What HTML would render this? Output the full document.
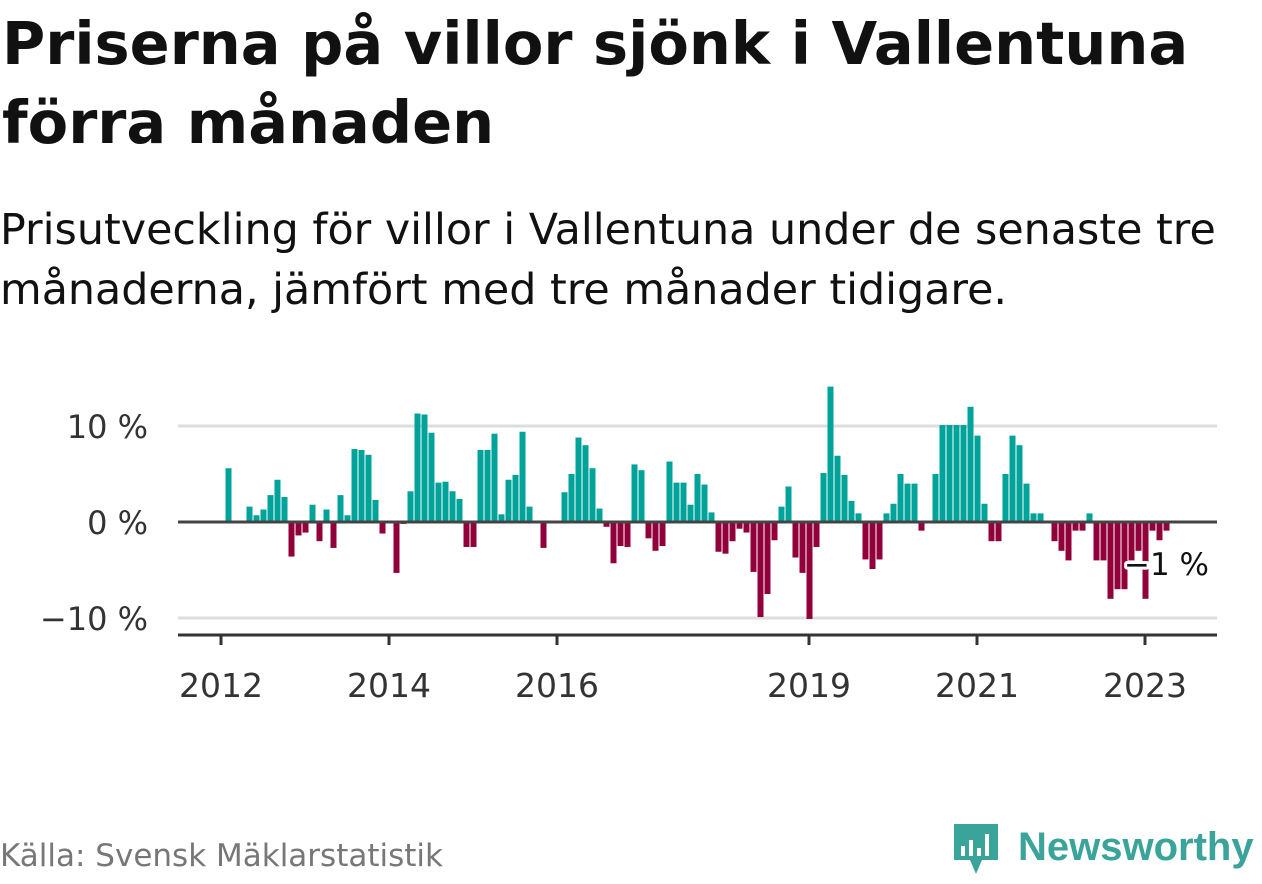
<!DOCTYPE html>
<html><head><meta charset="utf-8">
<style>
body{margin:0;width:1262px;height:879px;background:#fff;font-family:"DejaVu Sans",sans-serif;overflow:hidden;position:relative;color:#111}
#title{position:absolute;left:2px;top:4px;font-size:59px;font-weight:bold;line-height:79px;margin:0;white-space:nowrap}
#sub{position:absolute;left:0px;top:200px;font-size:42.8px;line-height:60px;margin:0;white-space:nowrap}
#src{position:absolute;left:0;top:838px;font-size:31px;color:#777;white-space:nowrap}
#logo{position:absolute;left:952px;top:820px}
</style></head><body>
<h1 id="title">Priserna på villor sjönk i Vallentuna<br>förra månaden</h1>
<p id="sub">Prisutveckling för villor i Vallentuna under de senaste tre<br>månaderna, jämfört med tre månader tidigare.</p>
<svg id="chart" width="1262" height="879" style="position:absolute;left:0;top:0"></svg>
<div id="src">Källa: Svensk Mäklarstatistik</div>
<div id="logo">
<svg width="310" height="60">
<path d="M2 4 H46 V40 H30 L24 54 L18 40 H2 Z" fill="#3aa39a"/>
<rect x="9" y="26" width="4" height="10" fill="#fff"/><rect x="17" y="20" width="4" height="16" fill="#fff"/><rect x="25" y="28" width="4" height="8" fill="#fff"/><rect x="33" y="14" width="4" height="22" fill="#fff"/>
<text x="66" y="40" font-family="Liberation Sans, sans-serif" font-weight="bold" font-size="40" fill="#3aa39a">Newsworthy</text>
</svg></div>
<script>
const values = [5.6,0,0,1.6,0.7,1.3,2.8,4.4,2.6,-3.6,-1.4,-1.1,1.8,-2.0,1.3,-2.7,2.8,0.7,7.6,7.5,7.0,2.3,-1.2,0,-5.3,-0.2,3.2,11.3,11.2,9.3,4.1,4.2,3.2,2.4,-2.6,-2.6,7.5,7.5,9.2,0.8,4.4,4.9,9.4,1.6,0,-2.7,0,0,
3.1,5.0,8.8,8.0,5.6,1.4,-0.5,-4.3,-2.5,-2.6,6.0,5.4,-1.7,-3.0,-2.5,6.3,4.1,4.1,1.8,5.0,3.9,1.0,-3.1,-3.3,-2.0,-0.7,-1.1,-5.2,-9.9,-7.5,-1.9,1.6,3.7,-3.7,-5.3,-10.1,-2.6,5.1,14.1,6.9,4.9,2.2,0.9,-3.9,-4.9,-3.9,0.9,1.9,5.0,4.0,4.0,-0.9,
0,5.0,10.1,10.1,10.1,10.1,12.0,9.0,1.9,-2.0,-2.0,5.0,9.0,8.0,4.0,0.9,0.9,0,-2.0,-3.0,-4.0,-0.9,-0.9,0.9,-4.0,-4.0,-8.0,-7.0,-7.0,-4.0,-3.0,-8.0,-0.9,-1.9,-0.9];
const yTicks = [10,0,-10];
const yTickLabels = ["10 %","0 %","\u221210 %"];
const xYears = [2012,2014,2016,2019,2021,2023];
const startMonth = 1; // Feb 2012
const lastLabel = "\u22121 %";
const svg=document.getElementById('chart'),NS='http://www.w3.org/2000/svg';
const x0=178,x1=1217;
const xM=m=>221+7*m;
const y=v=>522-v*9.6;
const FF='DejaVu Sans, sans-serif';
function mk(t,a,p){const e=document.createElementNS(NS,t);for(const k in a)e.setAttribute(k,a[k]);(p||svg).appendChild(e);return e;}
yTicks.forEach((t,i)=>{
  if(t!==0){const g=mk('line',{x1:x0,x2:x1,y1:y(t),y2:y(t),stroke:'#ddd','stroke-width':3});
  
  }
  const l=mk('text',{x:148,y:y(t)+12,'text-anchor':'end','font-size':32,fill:'#333','font-family':FF});
  l.textContent=yTickLabels[i];
  
  
});
values.forEach((v,i)=>{
  if(v===0)return;
  const cx=xM(startMonth+i)+0.5;
  const b=mk('rect',{x:cx-3,y:Math.min(y(v),y(0)),width:6,height:Math.abs(y(v)-y(0)),fill:v>0?'#00a39a':'#92003b'});
  
  
});
const z=mk('line',{x1:x0,x2:x1,y1:y(0),y2:y(0),stroke:'#444','stroke-width':3});


const ax=mk('line',{x1:x0,x2:x1,y1:635,y2:635,stroke:'#333','stroke-width':3});


xYears.forEach(yr=>{
  const px=xM((yr-2012)*12);
  const t=mk('line',{x1:px,x2:px,y1:635,y2:645,stroke:'#333','stroke-width':3});
  
  
  const l=mk('text',{x:px,y:697,'text-anchor':'middle','font-size':33,fill:'#333','font-family':FF});
  l.textContent=yr;
  
  
});
const lb=mk('text',{x:1124,y:575,'font-size':31,fill:'#111',stroke:'#fff','stroke-width':6,'paint-order':'stroke','stroke-linejoin':'round','font-family':FF});
lb.textContent=lastLabel;


</script>
</body></html>
